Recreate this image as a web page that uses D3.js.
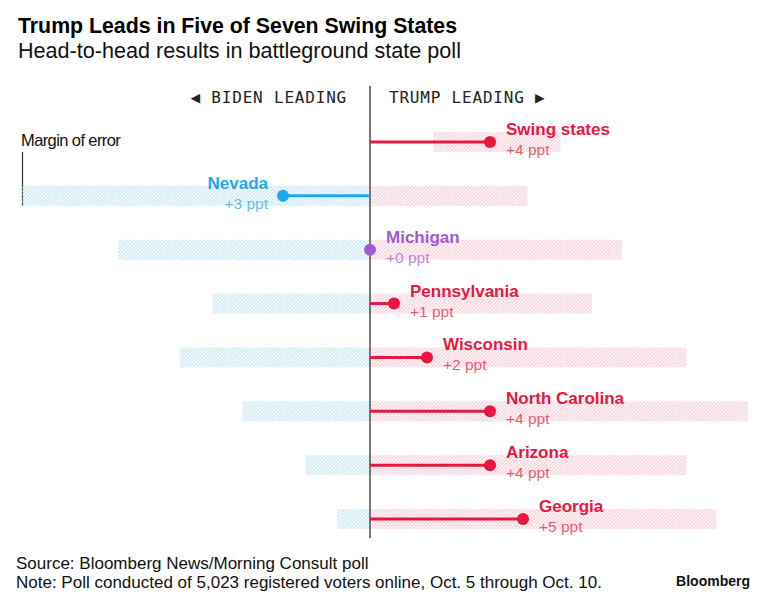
<!DOCTYPE html>
<html>
<head>
<meta charset="utf-8">
<script src="https://cdn.jsdelivr.net/npm/d3@7"></script>
<style>
  body { margin: 0; background: #fff; }
  text { font-family: "Liberation Sans", Arial, Helvetica, sans-serif; }
  .mono { font-family: "DejaVu Sans Mono", "Liberation Mono", monospace; }
</style>
</head>
<body>
<svg id="chart"></svg>
<script>
const width = 773;
const height = 612;

// data (percentage points, Trump minus Biden)
const states = ["Swing states", "Nevada", "Michigan", "Pennsylvania", "Wisconsin", "North Carolina", "Arizona", "Georgia"];
const margins = [4.0, -2.9, 0, 0.8, 1.9, 4.0, 4.0, 5.1];
const marginLabels = ["+4 ppt", "+3 ppt", "+0 ppt", "+1 ppt", "+2 ppt", "+4 ppt", "+4 ppt", "+5 ppt"];
const errorLow = [2.1, -11.6, -8.4, -5.25, -6.35, -4.25, -2.15, -1.1];
const errorHigh = [6.35, 5.25, 8.4, 7.4, 10.55, 12.6, 10.55, 11.55];

const red = "#e8173f";
const blue = "#1ea9ef";
const purple = "#a05bd0";

const rows = states.map((s, i) => ({
    name: s, value: margins[i], label: marginLabels[i], lo: errorLow[i], hi: errorHigh[i]
}));

const colorOf = v => v > 0 ? red : (v < 0 ? blue : purple);

const svg = d3.select("#chart")
    .attr("width", width)
    .attr("height", height);

const x = d3.scaleLinear().domain([-12, 13]).range([10, 760]);
const y = d3.scalePoint().domain(states).range([142, 519]);

// hatch patterns
const defs = svg.append("defs");
function hatch(id, color) {
    const p = defs.append("pattern")
        .attr("id", id)
        .attr("patternUnits", "userSpaceOnUse")
        .attr("width", 3.5)
        .attr("height", 3.5);
    p.append("path")
        .attr("d", "M-1,1 l2,-2 M0,3.5 l3.5,-3.5 M2.5,4.5 l2,-2")
        .attr("stroke", color)
        .attr("stroke-width", 0.9);
}
hatch("hatchBlue", "#b0def2");
hatch("hatchRed", "#f5b9c8");

// title
svg.append("text").attr("x", 18).attr("y", 33)
    .attr("font-size", 21.3).attr("font-weight", "bold").attr("fill", "#000")
    .text("Trump Leads in Five of Seven Swing States");
svg.append("text").attr("x", 18).attr("y", 58)
    .attr("font-size", 21.6).attr("fill", "#111")
    .text("Head-to-head results in battleground state poll");

// direction headers
svg.append("text").attr("class", "mono")
    .attr("x", x(0) - 23).attr("y", 103)
    .attr("text-anchor", "end").attr("font-size", 16)
    .attr("letter-spacing", 0.8).attr("fill", "#222")
    .text("◀ BIDEN LEADING");
svg.append("text").attr("class", "mono")
    .attr("x", x(0) + 19).attr("y", 103)
    .attr("font-size", 16)
    .attr("letter-spacing", 0.8).attr("fill", "#222")
    .text("TRUMP LEADING ▶");

// margin of error legend
svg.append("text").attr("x", 21).attr("y", 146)
    .attr("font-size", 16.5).attr("letter-spacing", -0.6).attr("fill", "#111")
    .text("Margin of error");
svg.append("line")
    .attr("x1", x(errorLow[1]) + 0.5).attr("x2", x(errorLow[1]) + 0.5)
    .attr("y1", 152).attr("y2", y("Nevada") + 10)
    .attr("stroke", "#333").attr("stroke-width", 1.2);

// error bands
const band = svg.append("g");
band.selectAll(".lo")
    .data(rows.filter(d => d.lo < 0))
    .join("rect")
    .attr("x", d => x(d.lo))
    .attr("width", d => x(Math.min(d.hi, 0)) - x(d.lo))
    .attr("y", d => y(d.name) - 10)
    .attr("height", 20)
    .attr("fill", "url(#hatchBlue)");
band.selectAll(".hi")
    .data(rows.filter(d => d.hi > 0))
    .join("rect")
    .attr("x", d => x(Math.max(d.lo, 0)))
    .attr("width", d => x(d.hi) - x(Math.max(d.lo, 0)))
    .attr("y", d => y(d.name) - 10)
    .attr("height", 20)
    .attr("fill", "url(#hatchRed)");

// zero line
svg.append("line")
    .attr("x1", x(0)).attr("x2", x(0))
    .attr("y1", 86).attr("y2", 538)
    .attr("stroke", "#333").attr("stroke-width", 1.3);

// stems and dots
const row = svg.append("g").selectAll("g")
    .data(rows)
    .join("g")
    .attr("transform", d => `translate(0,${y(d.name)})`);

row.append("line")
    .attr("x1", x(0)).attr("x2", d => x(d.value))
    .attr("stroke", d => colorOf(d.value))
    .attr("stroke-width", 3);

row.append("circle")
    .attr("cx", d => x(d.value))
    .attr("r", 6)
    .attr("fill", d => colorOf(d.value));

const labelX = d => d.value < 0 ? x(d.value) - 15 : x(d.value) + 16;

row.append("text")
    .attr("x", labelX)
    .attr("y", -7)
    .attr("text-anchor", d => d.value < 0 ? "end" : "start")
    .attr("font-size", 17).attr("font-weight", "bold")
    .attr("fill", d => colorOf(d.value))
    .text(d => d.name);

row.append("text")
    .attr("x", labelX)
    .attr("y", 13)
    .attr("text-anchor", d => d.value < 0 ? "end" : "start")
    .attr("font-size", 15.5)
    .attr("fill", d => colorOf(d.value))
    .attr("fill-opacity", 0.72)
    .text(d => d.label);

// footer
svg.append("text").attr("x", 16).attr("y", 569)
    .attr("font-size", 17).attr("fill", "#111")
    .text("Source: Bloomberg News/Morning Consult poll");
svg.append("text").attr("x", 16).attr("y", 588)
    .attr("font-size", 17).attr("fill", "#111")
    .text("Note: Poll conducted of 5,023 registered voters online, Oct. 5 through Oct. 10.");
svg.append("text").attr("x", 750).attr("y", 586)
    .attr("text-anchor", "end")
    .attr("font-size", 14).attr("font-weight", "bold").attr("fill", "#111")
    .text("Bloomberg");
</script>
</body>
</html>
